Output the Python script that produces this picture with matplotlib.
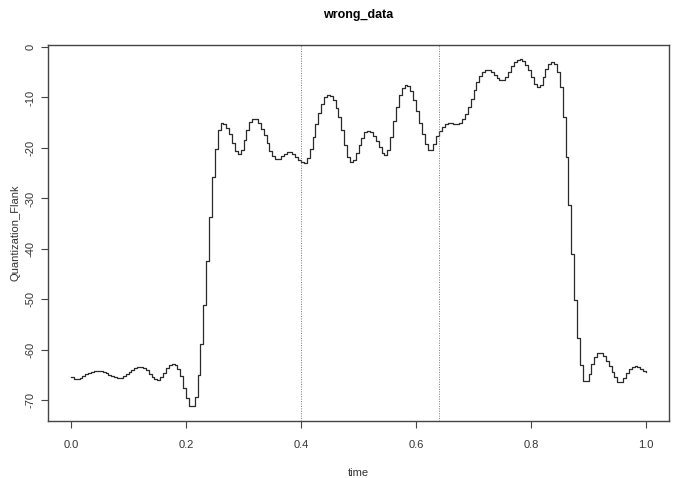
import numpy as np
import matplotlib.pyplot as plt

plt.rcParams['font.family'] = ['Liberation Sans Narrow', 'Liberation Sans', 'DejaVu Sans']

# sampled signal, one value every 0.005 on the time axis
time = np.arange(201) * 0.005
flank = [
    -65.4, -65.8, -65.8, -65.5, -65.1, -64.8, -64.5, -64.3, -64.1, -64.1,
    -64.1, -64.3, -64.6, -64.9, -65.2, -65.4, -65.6, -65.5, -65.2, -64.8,
    -64.3, -63.9, -63.5, -63.3, -63.3, -63.5, -64.0, -64.7, -65.3, -65.8,
    -65.9, -65.4, -64.5, -63.6, -63.0, -62.8, -62.9, -63.8, -65.2, -67.6,
    -69.6, -71.0, -71.0, -69.3, -65.0, -58.8, -51.0, -42.3, -33.6, -25.7,
    -20.1, -16.4, -15.1, -15.2, -16.0, -17.2, -19.0, -20.6, -21.1, -20.3,
    -18.5, -16.5, -14.9, -14.2, -14.3, -15.0, -16.2, -17.5, -19.0, -20.5,
    -21.6, -22.2, -22.1, -21.6, -21.1, -20.8, -20.8, -21.1, -21.7, -22.3,
    -22.8, -22.9, -22.0, -20.1, -17.8, -15.3, -13.1, -11.2, -10.0, -9.6,
    -9.7, -10.5, -12.0, -13.9, -16.5, -19.5, -21.8, -22.7, -22.3, -21.0,
    -19.5, -18.0, -16.9, -16.6, -16.8, -17.6, -18.7, -19.8, -21.0, -21.4,
    -20.4, -17.8, -14.6, -11.8, -9.6, -8.2, -7.6, -7.8, -8.8, -10.5,
    -12.6, -15.0, -17.3, -19.2, -20.3, -20.4, -19.3, -17.6, -16.6, -15.8,
    -15.3, -15.1, -15.1, -15.2, -15.3, -15.0, -14.3, -13.3, -11.9, -10.3,
    -8.6, -7.0, -5.7, -4.9, -4.6, -4.6, -5.0, -5.6, -6.2, -6.6,
    -6.6, -6.0, -4.9, -3.8, -3.0, -2.5, -2.4, -2.7, -3.5, -4.6,
    -6.0, -7.3, -7.9, -7.6, -6.0, -4.3, -3.3, -3.0, -3.4, -5.0,
    -8.0, -13.8, -21.8, -31.2, -40.9, -50.1, -57.7, -63.0, -66.1, -66.1,
    -64.7, -62.8, -61.3, -60.6, -60.6, -61.2, -62.1, -63.2, -64.3, -65.4,
    -66.3, -66.4, -65.6, -64.6, -63.8, -63.3, -63.2, -63.3, -63.7, -64.1,
    -64.4,
]
markers = [0.4, 0.64]
xticks = [0.0, 0.2, 0.4, 0.6, 0.8, 1.0]
yticks = [0, -10, -20, -30, -40, -50, -60, -70]

fig = plt.figure(figsize=(6.77, 4.78), dpi=100)
ax = fig.add_axes([0.0709, 0.1199, 0.9173, 0.786])

ax.step(time, flank, where='post', color='#2a2a2a', lw=0.9)
for m in markers:
    ax.axvline(m, color='#777777', lw=0.7, ls=(0, (1, 1.5)))

ax.set_xlim(-0.04, 1.04)
ax.set_ylim(-74.0, 0.4)
ax.set_xticks(xticks)
ax.set_xticklabels(['%.1f' % t for t in xticks])
ax.set_yticks(yticks)
ax.set_yticklabels([str(t) for t in yticks], rotation=90, va='center')
ax.tick_params(direction='out', length=5, width=0.8, colors='#444444',
               labelsize=8, labelcolor='#333333')
ax.tick_params(axis='x', pad=9)
ax.tick_params(axis='y', pad=4)
for s in ax.spines.values():
    s.set_color('#444444')
    s.set_linewidth(1.0)

ax.set_title('wrong_data', fontsize=9, fontweight='bold', y=1.05)
ax.set_xlabel('time', fontsize=8, color='#333333', va='center')
ax.set_ylabel('Quantization_Flank', fontsize=8, color='#333333', va='center')
ax.xaxis.set_label_coords(0.5, -0.138)
ax.yaxis.set_label_coords(-0.053, 0.5)

fig.savefig('out.png', dpi=100)
